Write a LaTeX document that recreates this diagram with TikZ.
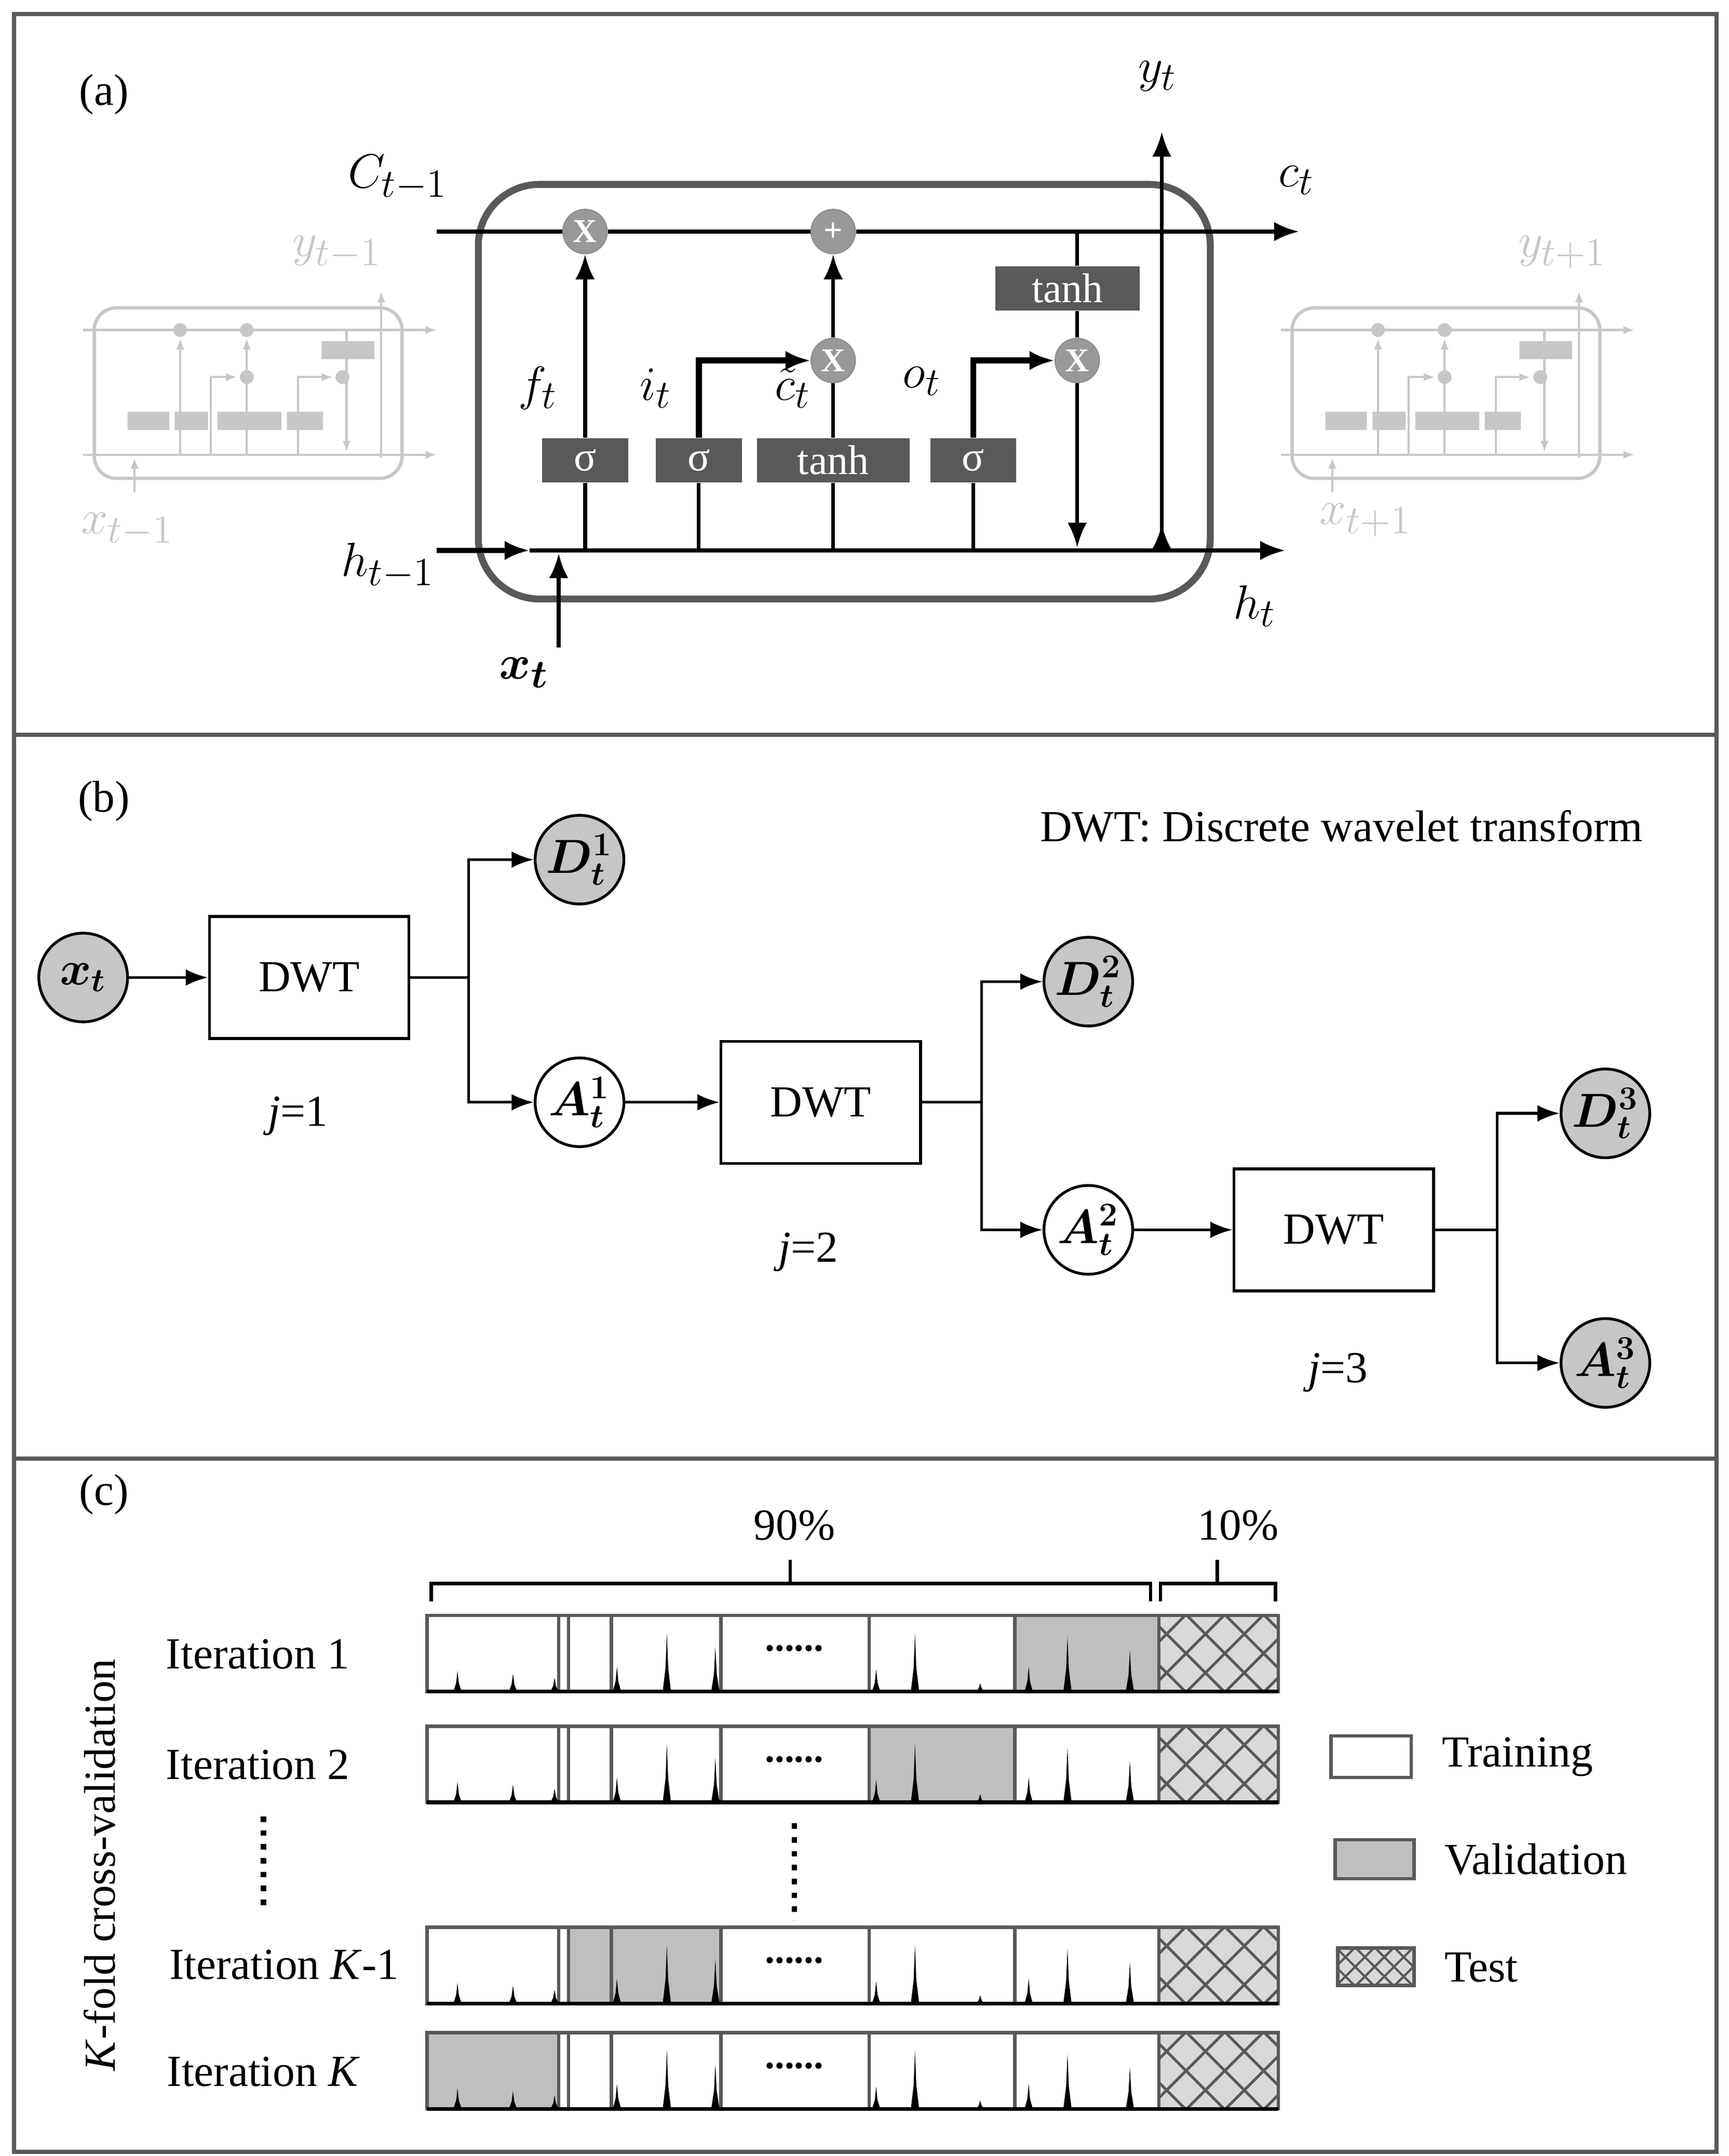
\documentclass[tikz,border=0pt]{standalone}
\usepackage{amsmath,bm}
\usepackage{fontspec}
\setmainfont{Liberation Serif}
\usetikzlibrary{arrows.meta,calc}
\definecolor{dg}{gray}{0.35}
\definecolor{lg}{gray}{0.78}
\definecolor{vg}{gray}{0.75}
\tikzset{
  arr/.style={-{Latex[length=9pt,width=7pt]},line width=1.4pt},
  gbox/.style={fill=dg,text=white,inner sep=0pt,minimum height=16pt,font=\fontsize{15}{15}\selectfont},
  gop/.style={circle,fill=gray!80,draw=gray!90,text=white,inner sep=0pt,minimum size=16pt,font=\bfseries\fontsize{12}{12}\selectfont},
  lab/.style={font=\fontsize{19}{19}\selectfont},
  circ/.style={circle,draw,line width=1pt,minimum size=32pt,inner sep=0pt,font=\fontsize{17}{17}\selectfont},
  dwt/.style={draw,line width=1pt,minimum width=72pt,minimum height=44pt,font=\fontsize{16}{16}\selectfont},
  txt/.style={font=\fontsize{16}{16}\selectfont},
  barr/.style={-{Latex[length=8pt,width=6pt]},line width=1pt},
  ghost/.style={draw=lg,line width=0.8pt},
  garr/.style={draw=lg,line width=0.8pt,-{Latex[length=4pt,width=3pt]}},
}
\newcommand\minicell[1]{%
\begin{scope}[shift={(#1,0)}]
 \draw[ghost,line width=1.2pt,rounded corners=8pt] (68,222) rectangle (290,345);
 \draw[garr] (60,238) -- (315,238);
 \draw[garr] (60,328) -- (315,328);
 \fill[lg] (130,238) circle (5) (178,238) circle (5) (178,272) circle (5) (247,272) circle (5);
 \draw[garr] (130,328) -- (130,244);
 \draw[garr] (152,328) -- (152,272) -- (171,272);
 \draw[garr] (178,328) -- (178,244);
 \draw[garr] (215,328) -- (215,272) -- (240,272);
 \draw[garr] (250,238) -- (250,326);
 \draw[garr] (275,330) -- (275,210);
 \draw[garr] (97,355) -- (97,330);
 \fill[lg] (92,297) rectangle (122,310) (126,297) rectangle (150,310) (157,297) rectangle (203,310) (207,297) rectangle (233,310) (232,246) rectangle (270,259);
\end{scope}}
\newcommand\spike[3]{\fill[black] (#1-3,#2) -- (#1-1,#2-#3*0.4) -- (#1,#2-#3) -- (#1+1,#2-#3*0.4) -- (#1+3,#2) -- cycle;}
\newcommand\barrow[2]{% y top, validation segment spec
\begin{scope}[shift={(0,#1)}]
 \fill[white] (308,0) rectangle (836,55);
 #2
 \draw[dg,line width=1.2pt] (308,0) rectangle (922,55);
 \foreach \xx in {403,410,441,520,627,732,836} \draw[dg,line width=1.2pt] (\xx,0) -- (\xx,55);
 \begin{scope}
  \clip (836,0) rectangle (922,55);
  \fill[gray!30] (836,0) rectangle (922,55);
  \foreach \k in {-4,...,8} {\draw[dg,line width=1pt] (800+\k*28,0) -- ++(55,55); \draw[dg,line width=1pt] (800+\k*28,55) -- ++(55,-55);}
 \end{scope}
 \draw[dg,line width=1.2pt] (836,0) rectangle (922,55);
 \draw[black,line width=1.4pt] (308,55) -- (922,55);
 \foreach \a/\b in {330/15,370/13,400/10,445/18,481/42,516/32,632/16,660/42,707/6,742/18,770/40,815/30} {\spike{\a}{55}{\b}}
 \node[font=\bfseries\fontsize{14}{14}\selectfont] at (573,24) {......};
\end{scope}}
\begin{document}
\begin{tikzpicture}[x=0.5pt,y=-0.5pt]
\useasboundingbox (0,0) rectangle (1247,1555);
\draw[line width=1.5pt,dg] (10,10) rectangle (1238,1552);
\draw[line width=1.5pt,dg] (10,530) -- (1238,530);
\draw[line width=1.5pt,dg] (10,1052) -- (1238,1052);

% ---------- (a)
\node[txt] (pa) at (75,68) {(a)};
\minicell{0}
\minicell{864}
\node[lab,text=lg] (ym1) at (243,182) {$y_{t-1}$};
\node[lab,text=lg] (xm1) at (92,382) {$x_{t-1}$};
\node[lab,text=lg] (yp1) at (1127,182) {$y_{t+1}$};
\node[lab,text=lg] (xp1) at (985,375) {$x_{t+1}$};

\draw[dg,line width=2.5pt,rounded corners=22pt] (345,133) rectangle (873,432);
\node[gop] (fx) at (422,167) {X};
\node[gop] (pl) at (601,167) {+};
\node[gop] (ix) at (601,260) {X};
\node[gop] (ox) at (777,260) {X};
\coordinate (cin) at (315,167);
\coordinate (cout) at (937,167);
\draw[arr] (cin) -- (fx) -- (pl) -- (cout);
\coordinate (hin) at (315,397);
\coordinate (hmid) at (382,397);
\coordinate (hout) at (927,397);
\draw[arr,line width=2pt] (hin) -- (hmid);
\draw[arr] (hmid) -- (hout);
\node[gbox,minimum width=31pt] (s1) at (422,332) {σ};
\node[gbox,minimum width=31pt] (s2) at (504,332) {σ};
\node[gbox,minimum width=55pt] (t1) at (601,332) {tanh};
\node[gbox,minimum width=31pt] (s3) at (702,332) {σ};
\node[gbox,minimum width=52pt] (t2) at (770,208) {tanh};
\coordinate (xb) at (403,467);
\draw[arr] (xb) -- (403,399);
\node[lab] (xt) at (378,485) {$\bm{x_t}$};
\draw[line width=1.4pt] (422,397) -- (s1.south);
\draw[arr] (s1.north) -- (fx);
\draw[line width=1.4pt] (504,397) -- (s2.south);
\draw[arr,line width=2.2pt] (s2.north) -- (504,260) -- (ix);
\draw[line width=1.4pt] (601,397) -- (t1.south);
\draw[line width=1.4pt] (t1.north) -- (ix);
\draw[arr] (ix) -- (pl);
\draw[line width=1.4pt] (702,397) -- (s3.south);
\draw[arr,line width=2.2pt] (s3.north) -- (702,260) -- (ox);
\draw[line width=1.4pt] (777,167) -- (t2.north -| 777,0);
\draw[line width=1.4pt] (t2.south -| 777,0) -- (ox);
\draw[arr] (ox) -- (777,395);
\coordinate (yb) at (838,397);
\draw[arr] (yb) -- (838,95);
\draw[arr] (838,397) -- (838,378);
\node[lab] (ct) at (935,130) {$c_t$};
\node[lab] (cm1) at (287,128) {$C_{t-1}$};
\node[lab] (hm1) at (280,408) {$h_{t-1}$};
\node[lab] (ht) at (905,437) {$h_t$};
\node[lab] (yt) at (835,55) {$y_t$};
\node[lab] (ft) at (388,280) {$f_t$};
\node[lab] (it) at (473,280) {$i_t$};
\node[lab] (ctt) at (572,280) {$\tilde{c}_t$};
\node[lab] (ot) at (665,275) {$o_t$};

% ---------- (b)
\node[txt] (pb) at (75,578) {(b)};
\node[txt,anchor=east] (dl) at (1192,596) {DWT: Discrete wavelet transform};
\node[circ,fill=gray!45] (x) at (60,705) {$\bm{x_t}$};
\node[dwt] (w1) at (223,705) {DWT};
\node[circ,fill=gray!45] (d1) at (418,620) {$\bm{D_t^1}$};
\node[circ] (a1) at (418,795) {$\bm{A_t^1}$};
\node[dwt] (w2) at (592,795) {DWT};
\node[circ,fill=gray!45] (d2) at (785,708) {$\bm{D_t^2}$};
\node[circ] (a2) at (785,887) {$\bm{A_t^2}$};
\node[dwt] (w3) at (962,887) {DWT};
\node[circ,fill=gray!45] (d3) at (1158,803) {$\bm{D_t^3}$};
\node[circ,fill=gray!45] (a3) at (1158,983) {$\bm{A_t^3}$};
\draw[barr] (x) -- (w1);
\draw[barr] (w1.east) -- (338,705) |- (d1);
\draw[barr] (338,705) |- (a1);
\draw[barr] (a1) -- (w2);
\draw[barr] (w2.east) -- (708,795) |- (d2);
\draw[barr] (708,795) |- (a2);
\draw[barr] (a2) -- (w3);
\draw[barr] (w3.east) -- (1080,887) |- (d3);
\draw[barr] (1080,887) |- (a3);
\node[txt] (j1) at (215,805) {\textit{j}=1};
\node[txt] (j2) at (583,903) {\textit{j}=2};
\node[txt] (j3) at (965,990) {\textit{j}=3};

% ---------- (c)
\node[txt] (pc) at (75,1078) {(c)};
\node[txt] (p90) at (573,1100) {90\%};
\node[txt] (p10) at (893,1100) {10\%};
\draw[line width=1.2pt] (311,1155) -- (311,1142) -- (830,1142) -- (830,1155) (570,1142) -- (570,1125);
\draw[line width=1.2pt] (837,1155) -- (837,1142) -- (920,1142) -- (920,1155) (878,1142) -- (878,1125);
\barrow{1165}{\fill[vg] (732,0) rectangle (836,55);}
\barrow{1245}{\fill[vg] (627,0) rectangle (732,55);}
\barrow{1390}{\fill[vg] (410,0) rectangle (520,55);}
\barrow{1466}{\fill[vg] (308,0) rectangle (403,55);}
\node[txt] (i1) at (186,1193) {Iteration 1};
\node[txt] (i2) at (186,1273) {Iteration 2};
\node[txt] (ik1) at (205,1417) {Iteration \textit{K}-1};
\node[txt] (ik) at (190,1494) {Iteration \textit{K}};
\draw[line width=2pt,dash pattern=on 2pt off 3pt] (190,1310) -- (190,1375);
\draw[line width=2pt,dash pattern=on 2pt off 3pt] (573,1315) -- (573,1385);
\node[txt,rotate=90] (kf) at (72,1345) {\textit{K}-fold cross-validation};
\draw[dg,line width=1.2pt] (960,1252) rectangle (1018,1282);
\node[txt,anchor=west] (lt) at (1033,1267) {Training};
\draw[dg,line width=1.2pt,fill=vg] (963,1327) rectangle (1020,1355);
\node[txt,anchor=west] (lv) at (1035,1341) {Validation};
\begin{scope}
 \clip (965,1405) rectangle (1020,1432);
 \fill[gray!30] (965,1405) rectangle (1020,1432);
 \foreach \k in {-3,...,5} {\draw[dg,line width=0.8pt] (950+\k*14,1405) -- ++(27,27); \draw[dg,line width=0.8pt] (950+\k*14,1432) -- ++(27,-27);}
\end{scope}
\draw[dg,line width=1.2pt] (965,1405) rectangle (1020,1432);
\node[txt,anchor=west] (ltst) at (1035,1419) {Test};
\end{tikzpicture}
\end{document}
